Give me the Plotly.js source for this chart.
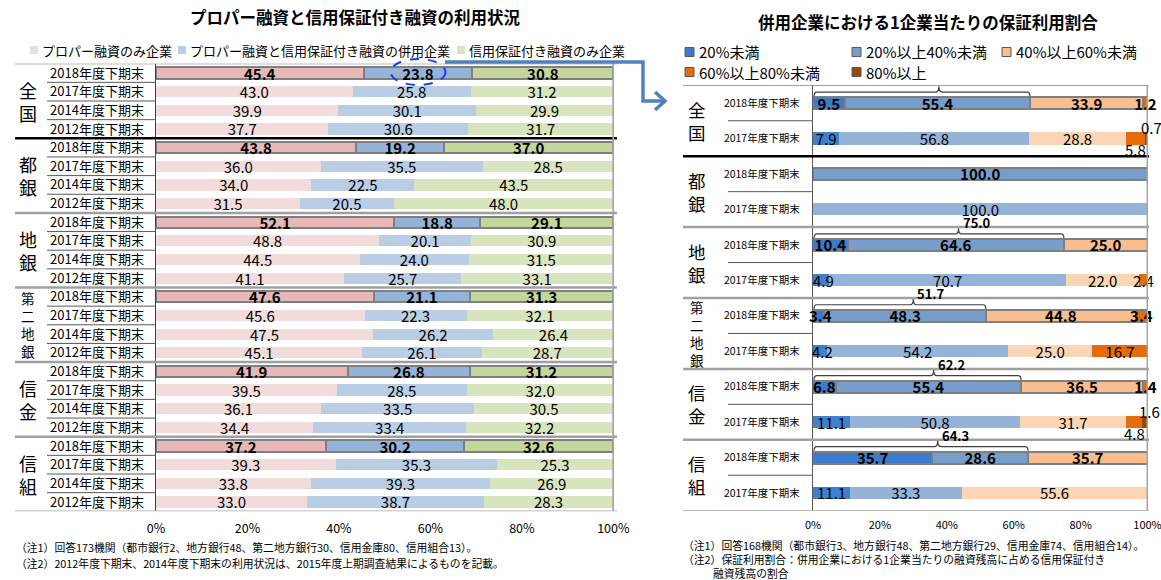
<!DOCTYPE html>
<html><head><meta charset="utf-8">
<script src="https://cdn.plot.ly/plotly-3.0.1.min.js"></script>
<style>html,body{margin:0;padding:0;background:#fff}#chart{width:1161px;height:580px}</style>
</head><body><div id="chart"></div>
<script>
// ---------- Left chart data ----------
const groupsL = ['全国','都銀','地銀','第二地銀','信金','信組'];
const groupLabelsL = ['全<br>国','都<br>銀','地<br>銀','第<br>二<br>地<br>銀','信<br>金','信<br>組'];
const periodsL = ['2018年度下期末','2017年度下期末','2014年度下期末','2012年度下期末'];
const seriesNamesL = ['プロパー融資のみ企業','プロパー融資と信用保証付き融資の併用企業','信用保証付き融資のみ企業'];
const properOnly    = [45.4,43.0,39.9,37.7, 43.8,36.0,34.0,31.5, 52.1,48.8,44.5,41.1, 47.6,45.6,47.5,45.1, 41.9,39.5,36.1,34.4, 37.2,39.3,33.8,33.0];
const combinedUse   = [23.8,25.8,30.1,30.6, 19.2,35.5,22.5,20.5, 18.8,20.1,24.0,25.7, 21.1,22.3,26.2,26.1, 26.8,28.5,33.5,33.4, 30.2,35.3,39.3,38.7];
const guaranteeOnly = [30.8,31.2,29.9,31.7, 37.0,28.5,43.5,48.0, 29.1,30.9,31.5,33.1, 31.3,32.1,26.4,28.7, 31.2,32.0,30.5,32.2, 32.6,25.3,26.9,28.3];
const xTickValues = [0,20,40,60,80,100];
const xTickLabels = ['0%','20%','40%','60%','80%','100%'];

// ---------- Right chart data ----------
const groupsR = ['全国','都銀','地銀','第二地銀','信金','信組'];
const groupLabelsR = ['全<br>国','都<br>銀','地<br>銀','第<br>二<br>地<br>銀','信<br>金','信<br>組'];
const periodsR = ['2018年度下期末','2017年度下期末'];
const bandNames = ['20%未満','20%以上40%未満','40%以上60%未満','60%以上80%未満','80%以上'];
const under20    = [9.5,7.9,   0,0,       10.4,4.9,  3.4,4.2,   6.8,11.1,  35.7,11.1];
const from20to40 = [55.4,56.8, 100.0,100.0, 64.6,70.7, 48.3,54.2, 55.4,50.8, 28.6,33.3];
const from40to60 = [33.9,28.8, 0,0,       25.0,22.0, 44.8,25.0, 36.5,31.7, 35.7,55.6];
const from60to80 = [1.2,5.8,   0,0,       0,2.4,     3.4,16.7,  1.4,4.8,   0,0];
const over80     = [0,0.7,     0,0,       0,0,       0,0,       0,1.6,     0,0];

// ---------- helpers ----------
const W = 1161, H = 580;
const px = v => v / W;
const py = v => 1 - v / H;
const JP = '"Noto Sans CJK JP", "Noto Sans", sans-serif';
const NUM = '"Liberation Sans Narrow", "Noto Sans CJK JP", sans-serif';
const XMAX = 100.15; // room for rounded shares that sum to 100.1

const rowsL = []; groupsL.forEach(g => periodsL.forEach(p => rowsL.push({g, p})));
const yL = rowsL.map((_, i) => i);
const latestL = rowsL.map(r => r.p === periodsL[0]);

const rowsR = []; groupsR.forEach(g => periodsR.forEach(p => rowsR.push({g, p})));
const yR = rowsR.map((_, i) => i);
const latestR = rowsR.map(r => r.p === periodsR[0]);

const traces = [];
const shapes = [];
const ann = [];

// Left traces
const seriesL = [properOnly, combinedUse, guaranteeOnly];
const colLatestL = ['#e6b8b7', '#95b3d7', '#c3d69b'];
const colOtherL  = ['#f2dcdb', '#b9cde5', '#d8e4bd'];
seriesL.forEach((vals, k) => {
  traces.push({
    type: 'bar', orientation: 'h', name: seriesNamesL[k],
    x: vals, y: yL, xaxis: 'x', yaxis: 'y', width: 0.6, cliponaxis: false,
    marker: {
      color: vals.map((v, i) => latestL[i] ? colLatestL[k] : colOtherL[k]),
      line: {color: '#7f7f7f', width: vals.map((v, i) => latestL[i] ? 2 : 0)}
    },
    text: vals.map((v, i) => latestL[i] ? '<b>' + v.toFixed(1) + '</b>' : v.toFixed(1)),
    textposition: 'inside', insidetextanchor: 'middle', textangle: 0, constraintext: 'none',
    textfont: {family: NUM, size: 15, color: '#000'},
    hoverinfo: 'skip', showlegend: false
  });
});

// Right traces
const seriesR = [under20, from20to40, from40to60, from60to80, over80];
const colLatestR = ['#3b7bc9', '#779ecb', '#f9bd8e', '#e46c0a', '#984807'];
const colOtherR  = ['#3f80cf', '#95b3d7', '#fcd5b5', '#e46c0a', '#984807'];
// rows where two tiny end segments sit together: their labels go above / below the bar
const splitRow = rowsR.map((_, i) => from60to80[i] > 0 && over80[i] > 0);
const fmtR = (v, i) => latestR[i] ? '<b>' + v.toFixed(1) + '</b>' : v.toFixed(1);
seriesR.forEach((vals, k) => {
  traces.push({
    type: 'bar', orientation: 'h', name: bandNames[k],
    x: vals.map(v => v === 0 ? null : v), y: yR, xaxis: 'x2', yaxis: 'y2', width: 0.34, cliponaxis: false,
    marker: {
      color: vals.map((v, i) => latestR[i] ? colLatestR[k] : colOtherR[k]),
      line: {color: '#7f7f7f', width: vals.map((v, i) => latestR[i] ? 2 : 0)}
    },
    text: vals.map((v, i) => {
      if (v === 0) return '';
      if (k >= 3 && splitRow[i]) return '';
      if (k === 0 && v < 6) return '';   // drawn as annotation so the next segment does not hide it
      return fmtR(v, i);
    }),
    textposition: 'inside', insidetextanchor: 'middle', textangle: 0, constraintext: 'none',
    textfont: {family: NUM, size: 15, color: '#000'},
    hoverinfo: 'skip', showlegend: false
  });
});
// narrow first segments: label on top
rowsR.forEach((r, i) => {
  const v = under20[i];
  if (v > 0 && v < 6) {
    ann.push({xref: 'x2', yref: 'y2', x: v / 2, y: i, showarrow: false, text: fmtR(v, i), xshift: 2,
      font: {family: NUM, size: 15, color: '#000'}});
  }
});

// ---------- table lines ----------
const hline = (xref, x0, x1, yref, y, color, width) => shapes.push({type: 'line', xref, yref, x0, x1, y0: y, y1: y, line: {color, width}});

// Left table lines
hline('paper', px(15), px(617), 'y', -0.5, '#7f7f7f', 1.2);
groupsL.forEach((g, gi) => {
  const yb = gi * 4 + 3.5;
  if (gi === 0) hline('paper', px(15), px(617), 'y', yb, '#000', 2.5);
  else if (gi < groupsL.length - 1) hline('paper', px(15), px(617), 'y', yb, '#a0a0a0', 2.5);
  else hline('paper', px(15), px(617), 'y', yb, '#a6a6a6', 1.5);
  for (let j = 0; j < 3; j++) hline('paper', px(47), px(156), 'y', gi * 4 + j + 0.5, '#595959', 1);
  ann.push({xref: 'paper', yref: 'y', x: px(28), y: gi * 4 + 1.5, text: groupLabelsL[gi], showarrow: false,
    font: {family: JP, size: gi === 3 ? 13.5 : 18, color: '#000'}, xanchor: 'center', yanchor: 'middle'});
});
shapes.push({type: 'line', xref: 'x', yref: 'y', x0: 100, x1: 100, y0: -0.5, y1: 23.5, line: {color: '#a6a6a6', width: 2}});

// Right table lines
hline('paper', px(683), px(1149), 'y2', -0.5, '#7f7f7f', 1.2);
groupsR.forEach((g, gi) => {
  const yb = gi * 2 + 1.5;
  if (gi === 0) hline('paper', px(683), px(1149), 'y2', yb, '#000', 2.5);
  else if (gi < groupsR.length - 1) hline('paper', px(683), px(1149), 'y2', yb, '#a0a0a0', 2.5);
  else hline('paper', px(683), px(1149), 'y2', yb, '#a6a6a6', 1.5);
  hline('paper', px(728), px(813), 'y2', gi * 2 + 0.5, '#595959', 1);
  ann.push({xref: 'paper', yref: 'y2', x: px(697), y: gi * 2 + 0.5, text: groupLabelsR[gi], showarrow: false,
    font: {family: JP, size: gi === 3 ? 13.5 : 17.5, color: '#000'}, xanchor: 'center', yanchor: 'middle'});
});
shapes.push({type: 'line', xref: 'x2', yref: 'y2', x0: 100, x1: 100, y0: -0.5, y1: 11.5, line: {color: '#a6a6a6', width: 2}});

// Brackets over latest rows (share under 40%)
let firstBracket = true;
rowsR.forEach((r, i) => {
  if (!latestR[i]) return;
  const tot = +(under20[i] + from20to40[i]).toFixed(1);
  if (tot >= 100) return;
  const x0 = 0.3, x1 = tot, xt = tot * 0.58, d = 0.9;
  const yb = i - 0.19, yh = i - 0.31, yt = i - 0.47;
  shapes.push({type: 'path', xref: 'x2', yref: 'y2', line: {color: '#404040', width: 1.2},
    path: `M ${x0},${yb} Q ${x0},${yh} ${x0 + d},${yh} L ${xt - d},${yh} Q ${xt},${yh} ${xt},${yt} Q ${xt},${yh} ${xt + d},${yh} L ${x1 - d},${yh} Q ${x1},${yh} ${x1},${yb}`});
  ann.push({xref: 'x2', yref: 'y2', x: xt, y: i - 0.62, xanchor: 'left', yanchor: 'middle', xshift: 2,
    text: '<b>' + tot.toFixed(1) + (firstBracket ? ' 【40%未満】' : '') + '</b>', showarrow: false,
    font: {family: NUM, size: 13, color: '#000'}});
  firstBracket = false;
});

// Outside labels for tiny end segments
rowsR.forEach((r, i) => {
  if (!splitRow[i]) return;
  const start4 = under20[i] + from20to40[i] + from40to60[i];
  const mid4 = start4 + from60to80[i] / 2;
  const mid5 = start4 + from60to80[i] + over80[i] / 2;
  ann.push({xref: 'x2', yref: 'y2', x: mid4, y: i, yshift: -11, showarrow: false, text: from60to80[i].toFixed(1),
    font: {family: NUM, size: 15, color: '#000'}});
  ann.push({xref: 'x2', yref: 'y2', x: mid5, y: i, yshift: 11, xshift: 5, showarrow: false, text: over80[i].toFixed(1),
    font: {family: NUM, size: 15, color: '#000'}});
});

// Highlight ellipse & arrow
const cIdx = 0;
const cMid = properOnly[cIdx] + combinedUse[cIdx] / 2;
shapes.push({type: 'circle', xref: 'x', yref: 'paper', x0: cMid - 6, x1: cMid + 6, y0: py(85), y1: py(59),
  line: {color: '#1a3cff', width: 2, dash: 'dash'}});
shapes.push({type: 'path', xref: 'paper', yref: 'paper', line: {color: '#4f81bd', width: 3.5},
  path: `M ${px(445)},${py(62)} L ${px(643)},${py(62)} L ${px(643)},${py(101)} L ${px(663)},${py(101)}`});
shapes.push({type: 'path', xref: 'paper', yref: 'paper', line: {color: '#4f81bd', width: 3.5},
  path: `M ${px(655)},${py(92)} L ${px(665)},${py(101)} L ${px(655)},${py(110)}`});

// Titles
ann.push({xref: 'paper', yref: 'paper', x: px(355), y: py(17), text: '<b>プロパー融資と信用保証付き融資の利用状況</b>',
  showarrow: false, font: {family: JP, size: 16.5, color: '#000'}, xanchor: 'center', yanchor: 'middle'});
ann.push({xref: 'paper', yref: 'paper', x: px(928), y: py(22), text: '<b>併用企業における1企業当たりの保証利用割合</b>',
  showarrow: false, font: {family: JP, size: 16.5, color: '#000'}, xanchor: 'center', yanchor: 'middle'});

// Legends (left)
const legL = [{sq: 30, tx: 40}, {sq: 178, tx: 188}, {sq: 457, tx: 467}];
legL.forEach((p, k) => {
  shapes.push({type: 'rect', xref: 'paper', yref: 'paper', x0: px(p.sq), x1: px(p.sq + 8), y0: py(54), y1: py(46),
    fillcolor: colOtherL[k], line: {width: 0}});
  ann.push({xref: 'paper', yref: 'paper', x: px(p.tx), y: py(50), xanchor: 'left', yanchor: 'middle', showarrow: false,
    text: seriesNamesL[k], font: {family: JP, size: 13, color: '#000'}});
});
// Legends (right)
const legR = [{sq: 685, tx: 697, y: 52}, {sq: 852, tx: 864, y: 52}, {sq: 1002, tx: 1014, y: 52}, {sq: 685, tx: 697, y: 72}, {sq: 852, tx: 864, y: 72}];
legR.forEach((p, k) => {
  shapes.push({type: 'rect', xref: 'paper', yref: 'paper', x0: px(p.sq), x1: px(p.sq + 9), y0: py(p.y + 4.5), y1: py(p.y - 4.5),
    fillcolor: colLatestR[k], line: {color: '#595959', width: 1}});
  ann.push({xref: 'paper', yref: 'paper', x: px(p.tx), y: py(p.y), xanchor: 'left', yanchor: 'middle', showarrow: false,
    text: bandNames[k], font: {family: JP, size: 15, color: '#000'}});
});

// Footnotes
const notes = [
  {x: 15, y: 547, t: '（注1）回答173機関（都市銀行2、地方銀行48、第二地方銀行30、信用金庫80、信用組合13）。'},
  {x: 15, y: 563, t: '（注2）2012年度下期末、2014年度下期末の利用状況は、2015年度上期調査結果によるものを記載。'},
  {x: 682, y: 545, t: '（注1）回答168機関（都市銀行3、地方銀行48、第二地方銀行29、信用金庫74、信用組合14）。'},
  {x: 682, y: 559, t: '（注2）保証利用割合：併用企業における1企業当たりの融資残高に占める信用保証付き'},
  {x: 712, y: 573, t: '融資残高の割合'}
];
notes.forEach(n => ann.push({xref: 'paper', yref: 'paper', x: px(n.x), y: py(n.y), xanchor: 'left', yanchor: 'middle',
  showarrow: false, text: n.t, borderpad: 0, font: {family: JP, size: 10.8, color: '#000'}}));

const layout = {
  width: W, height: H, margin: {l: 0, r: 0, t: 0, b: 0},
  paper_bgcolor: '#fff', plot_bgcolor: 'rgba(0,0,0,0)',
  barmode: 'stack', bargap: 0, showlegend: false,
  font: {family: JP, color: '#000'},
  xaxis: {domain: [px(156), px(614)], range: [0, XMAX], tickvals: xTickValues, ticktext: xTickLabels,
    showgrid: false, zeroline: false, showline: false, ticks: '', ticklabelstandoff: 8, ticklabeloverflow: 'allow',
    tickfont: {family: NUM, size: 12.5, color: '#000'}, anchor: 'y', fixedrange: true},
  yaxis: {domain: [py(511.3), py(63.7)], range: [23.5, -0.5], tickvals: yL, ticktext: rowsL.map(r => r.p),
    showgrid: false, zeroline: false, showline: true, linecolor: '#404040', linewidth: 1.5, ticks: '',
    ticklabelstandoff: 8, tickfont: {family: JP, size: 13, color: '#000'}, anchor: 'x', fixedrange: true},
  xaxis2: {domain: [px(813), px(1148)], range: [0, XMAX], tickvals: xTickValues, ticktext: xTickLabels,
    showgrid: false, zeroline: false, showline: false, ticks: '', ticklabelstandoff: 6, ticklabeloverflow: 'allow',
    tickfont: {family: NUM, size: 11, color: '#000'}, anchor: 'y2', fixedrange: true},
  yaxis2: {domain: [py(510.7), py(85.3)], range: [11.5, -0.5], tickvals: yR, ticktext: rowsR.map(r => r.p),
    showgrid: false, zeroline: false, showline: true, linecolor: '#595959', linewidth: 1.2, ticks: '',
    ticklabelstandoff: 10, tickfont: {family: JP, size: 10.5, color: '#000'}, anchor: 'x2', fixedrange: true},
  shapes: shapes, annotations: ann
};

Plotly.newPlot('chart', traces, layout, {displayModeBar: false, staticPlot: true});
</script>
</body></html>
